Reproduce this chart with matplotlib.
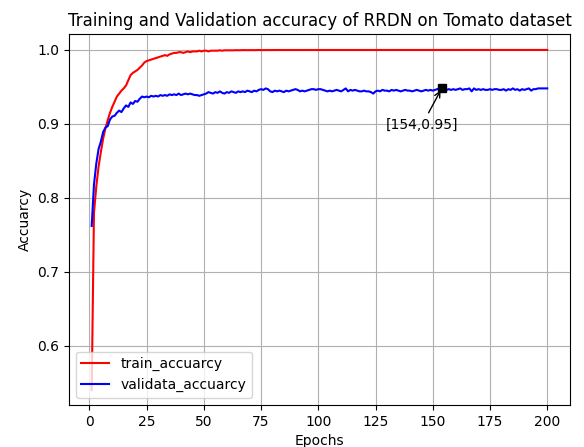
import matplotlib
matplotlib.use('Agg')
import matplotlib.pyplot as plt

# accuracy per epoch
train_acc = [
    0.540, 0.780, 0.815, 0.842, 0.862, 0.880, 0.894, 0.905, 0.915, 0.923,
    0.930, 0.937, 0.941, 0.945, 0.948, 0.952, 0.959, 0.966, 0.969, 0.971,
    0.973, 0.976, 0.979, 0.983, 0.985, 0.986, 0.987, 0.988, 0.989, 0.990,
    0.991, 0.992, 0.993, 0.992, 0.994, 0.995, 0.996, 0.996, 0.997, 0.997,
    0.996, 0.997, 0.998, 0.997, 0.998, 0.998, 0.998, 0.999, 0.998, 0.999,
    0.999, 0.998, 0.999, 0.999, 0.999, 0.999, 0.9995, 0.999, 0.9995, 0.9995,
    0.9995, 0.9996, 0.9995, 0.9997, 0.9996, 0.9997, 0.9997, 0.9998, 0.9997, 0.9998,
    0.9998, 0.9997, 0.9998, 0.9999, 0.9998, 0.9998, 0.9999, 0.9999, 0.9998, 0.9999,
    0.9999, 0.9999, 1.0, 0.9999, 0.9999, 1.0, 0.9999, 1.0, 0.9999, 1.0,
    1.0, 0.9999, 1.0, 1.0, 0.9999, 1.0, 1.0, 1.0, 0.9999, 1.0,
    1.0, 1.0, 1.0, 0.9999, 1.0, 1.0, 1.0, 1.0, 1.0, 0.9999,
    1.0, 1.0, 1.0, 1.0, 1.0, 1.0, 0.9999, 1.0, 1.0, 1.0,
    1.0, 1.0, 1.0, 1.0, 1.0, 1.0, 1.0, 1.0, 1.0, 1.0,
    1.0, 1.0, 0.9999, 1.0, 1.0, 1.0, 1.0, 1.0, 1.0, 1.0,
    1.0, 1.0, 1.0, 1.0, 1.0, 1.0, 1.0, 1.0, 1.0, 1.0,
    1.0, 1.0, 1.0, 1.0, 1.0, 1.0, 1.0, 1.0, 1.0, 1.0,
    1.0, 1.0, 1.0, 1.0, 1.0, 1.0, 1.0, 1.0, 1.0, 1.0,
    1.0, 1.0, 1.0, 1.0, 1.0, 1.0, 1.0, 1.0, 1.0, 1.0,
    1.0, 1.0, 1.0, 1.0, 1.0, 1.0, 1.0, 1.0, 1.0, 1.0,
    1.0, 1.0, 1.0, 1.0, 1.0, 1.0, 1.0, 1.0, 1.0, 1.0,
]
val_acc = [
    0.762, 0.818, 0.846, 0.866, 0.876, 0.889, 0.895, 0.897, 0.906, 0.910,
    0.911, 0.915, 0.918, 0.916, 0.921, 0.925, 0.923, 0.929, 0.927, 0.931,
    0.930, 0.934, 0.937, 0.936, 0.937, 0.936, 0.938, 0.937, 0.938, 0.937,
    0.939, 0.938, 0.939, 0.938, 0.940, 0.939, 0.940, 0.939, 0.941, 0.939,
    0.940, 0.941, 0.940, 0.941, 0.940, 0.939, 0.939, 0.938, 0.939, 0.940,
    0.941, 0.943, 0.942, 0.941, 0.943, 0.942, 0.944, 0.942, 0.941, 0.943,
    0.942, 0.944, 0.943, 0.942, 0.944, 0.943, 0.944, 0.943, 0.945, 0.944,
    0.943, 0.945, 0.944, 0.946, 0.947, 0.946, 0.948, 0.947, 0.944, 0.943,
    0.945, 0.944, 0.945, 0.944, 0.943, 0.945, 0.944, 0.945, 0.946, 0.947,
    0.946, 0.944, 0.945, 0.944, 0.945, 0.946, 0.947, 0.947, 0.946, 0.947,
    0.947, 0.946, 0.945, 0.944, 0.945, 0.944, 0.945, 0.946, 0.945, 0.944,
    0.946, 0.948, 0.944, 0.946, 0.945, 0.946, 0.945, 0.944, 0.944, 0.945,
    0.944, 0.944, 0.943, 0.941, 0.944, 0.945, 0.944, 0.946, 0.945, 0.945,
    0.944, 0.946, 0.945, 0.946, 0.945, 0.944, 0.945, 0.946, 0.945, 0.945,
    0.944, 0.945, 0.946, 0.945, 0.944, 0.945, 0.946, 0.945, 0.946, 0.945,
    0.946, 0.947, 0.948, 0.9485, 0.947, 0.946, 0.947, 0.946, 0.947, 0.946,
    0.947, 0.948, 0.946, 0.947, 0.947, 0.948, 0.944, 0.948, 0.946, 0.947,
    0.946, 0.947, 0.946, 0.946, 0.947, 0.946, 0.947, 0.947, 0.946, 0.946,
    0.947, 0.945, 0.947, 0.946, 0.948, 0.946, 0.947, 0.945, 0.947, 0.946,
    0.947, 0.948, 0.945, 0.947, 0.947, 0.948, 0.948, 0.948, 0.948, 0.948,
]
epochs = list(range(1, len(train_acc) + 1))
best_epoch = 154

fig = plt.figure(figsize=(5.84, 4.47), dpi=100)
ax = fig.add_axes([0.118, 0.094, 0.858, 0.830])

ax.plot(epochs, train_acc, 'r', label='train_accuarcy')
ax.plot(epochs, val_acc, 'b', label='validata_accuarcy')

best_val = val_acc[best_epoch - 1]
ax.plot(best_epoch, best_val, 'ks', markersize=6)
ax.annotate('[%d,%.2f]' % (best_epoch, best_val), xy=(best_epoch, best_val),
            xytext=(145.3, 0.8985), ha='center', va='center',
            arrowprops=dict(arrowstyle='->', color='black'))

ax.set_ylim(0.520, 1.0216)
ax.set_xlabel('Epochs')
ax.set_ylabel('Accuarcy')
ax.set_title('Training and Validation accuracy of RRDN on Tomato dataset')
ax.grid(True)
ax.legend(loc='lower left')

fig.savefig('out.png', dpi=100)
